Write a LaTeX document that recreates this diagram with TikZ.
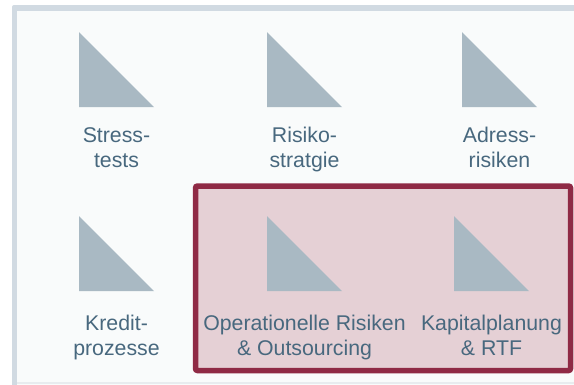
\documentclass[tikz,border=0pt]{standalone}
\usepackage{fontspec}
\setmainfont{Liberation Sans}
\definecolor{framegray}{RGB}{209,218,226}
\definecolor{panelbg}{RGB}{249,251,251}
\definecolor{tricol}{RGB}{169,185,195}
\definecolor{labelcol}{RGB}{72,104,126}
\definecolor{hlborder}{RGB}{143,42,69}
\definecolor{hlfill}{RGB}{229,208,213}
\definecolor{bottomline}{RGB}{232,236,239}
\begin{document}
\begin{tikzpicture}[x=1pt,y=-1pt,
  tri/.style={fill=tricol},
  label/.style={text=labelcol,align=center,inner sep=0pt,anchor=base,
    font=\fontsize{21.3}{24.5}\selectfont}]
\useasboundingbox (0,0) rectangle (574,384);
\begin{scope}
\clip (0,0) rectangle (574,384);
\fill[white] (0,0) rectangle (574,384);
\fill[framegray,rounded corners=2pt] (12,5) rectangle (590,400);
\fill[panelbg] (17,11) rectangle (590,400);
\draw[bottomline,line width=1.5pt] (17,383) -- (574,383);
\end{scope}
% highlight box
\draw[hlborder,fill=hlfill,line width=5.5pt,rounded corners=2pt] (195.5,186) rectangle (570.5,370.5);
% triangles
\fill[tri] (79,32) -- (79,107) -- (154,107) -- cycle;
\fill[tri] (267,32) -- (267,107) -- (342,107) -- cycle;
\fill[tri] (462,32) -- (462,107) -- (537,107) -- cycle;
\fill[tri] (79,216) -- (79,291) -- (154,291) -- cycle;
\fill[tri] (267,216) -- (267,291) -- (342,291) -- cycle;
\fill[tri] (454,216) -- (454,291) -- (529,291) -- cycle;
% labels
\node[label] (stress) at (116.5,167) {Stress-\\tests};
\node[label] (risiko) at (304.5,167) {Risiko-\\stratgie};
\node[label] (adress) at (499.5,167) {Adress-\\risiken};
\node[label] (kredit) at (116.5,355) {Kredit-\\prozesse};
\node[label] (oprisk) at (304.5,355) {Operationelle Risiken\\\& Outsourcing};
\node[label] (kapital) at (491.5,355) {Kapitalplanung\\\& RTF};
\end{tikzpicture}
\end{document}
